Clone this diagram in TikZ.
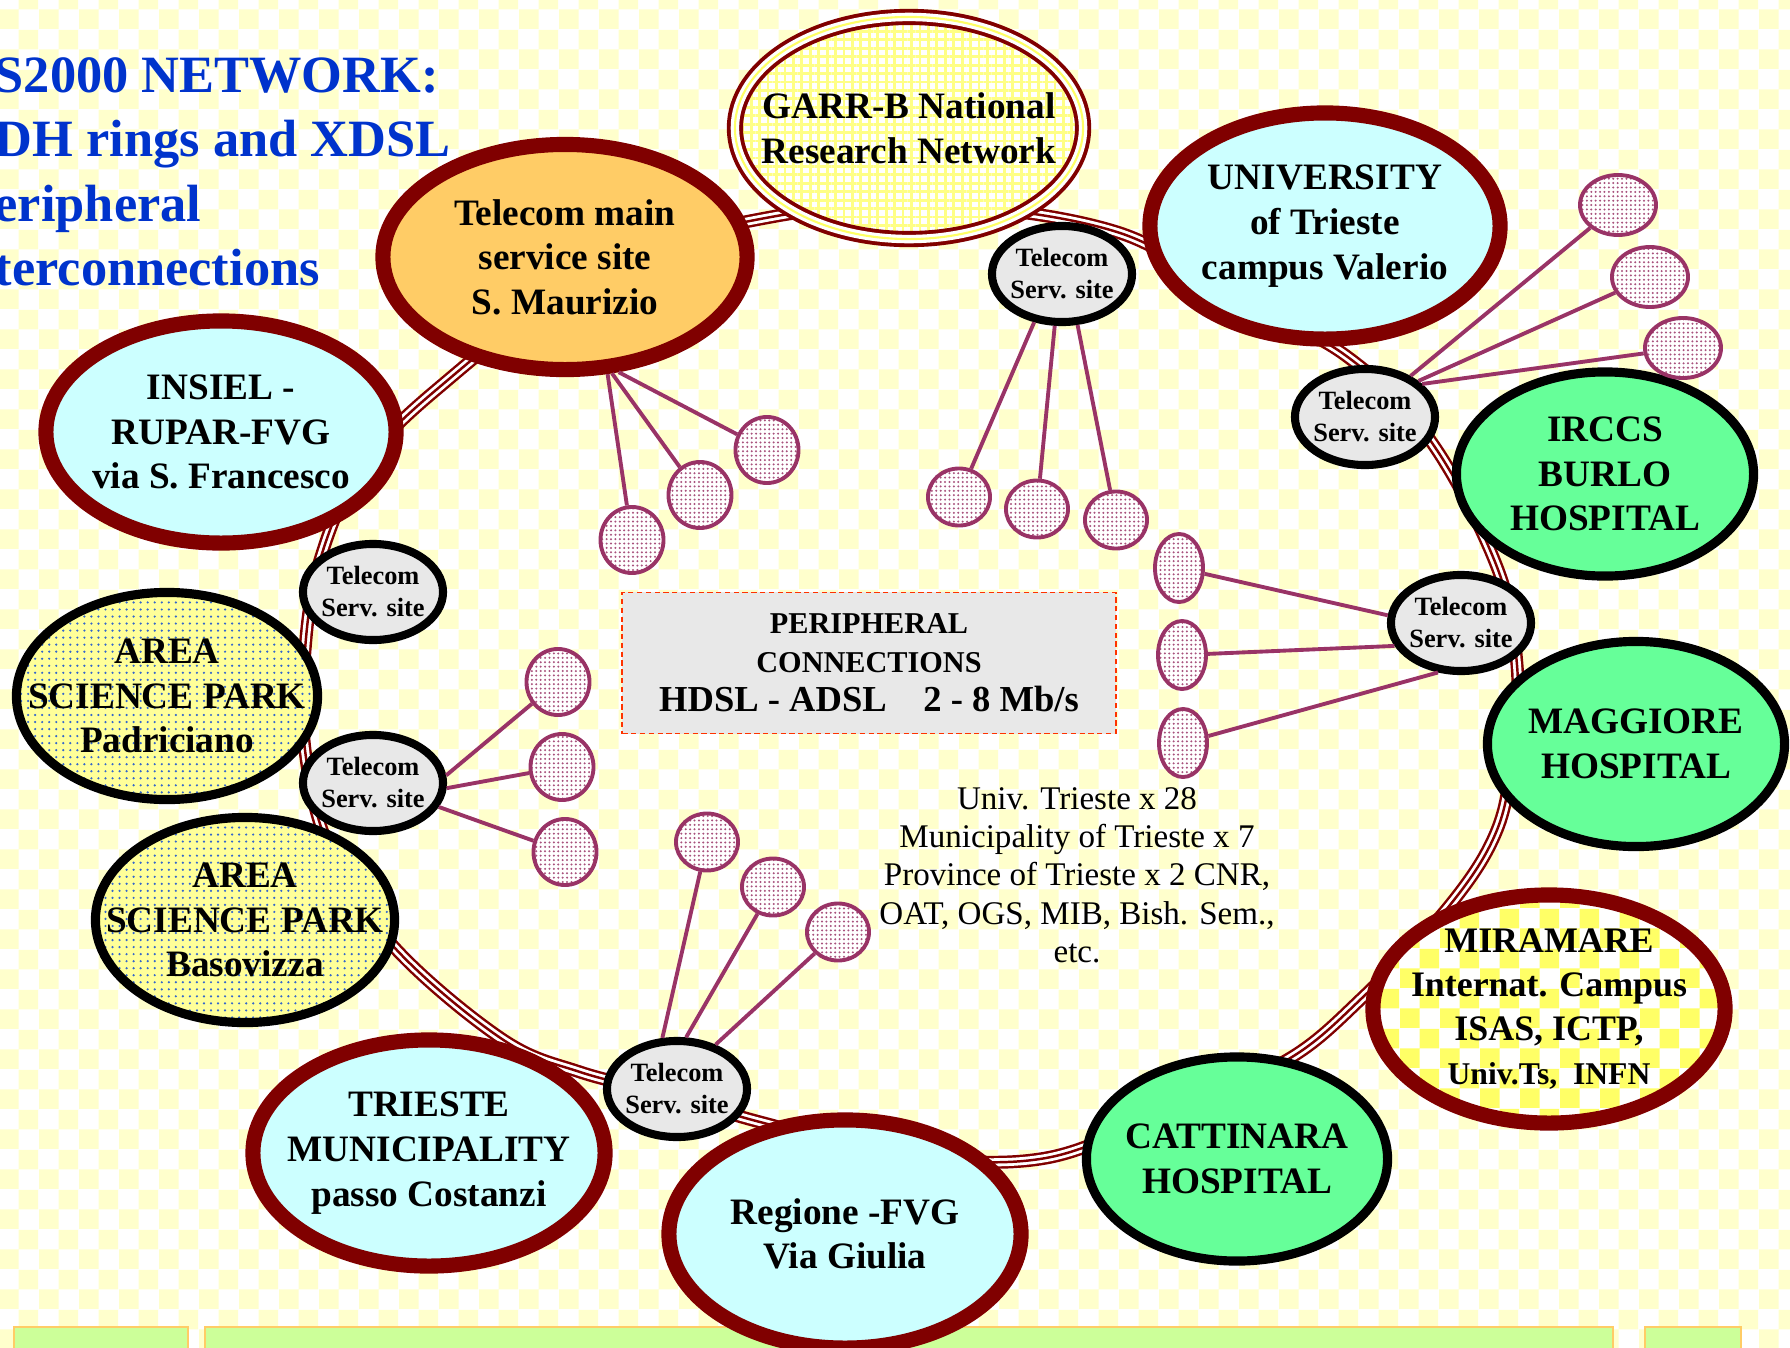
\documentclass[tikz,border=0pt]{standalone}
\usepackage{fontspec}
\setmainfont{Liberation Serif}
\usepackage{tikz}
\usetikzlibrary{shapes.geometric,patterns,patterns.meta}
\definecolor{ringred}{HTML}{800000}
\definecolor{skyfill}{HTML}{CCFFFF}
\definecolor{orgfill}{HTML}{FFCC66}
\definecolor{hospfill}{HTML}{66FF99}
\definecolor{parkfill}{HTML}{FFFF99}
\definecolor{dotblue}{HTML}{3366CC}
\definecolor{telgrey}{HTML}{E8E8E8}
\definecolor{plum}{HTML}{993366}
\definecolor{titleblue}{HTML}{0033CC}
\definecolor{bgyellow}{HTML}{FFFFCC}
\definecolor{chkyellow}{HTML}{FFFF66}
\definecolor{boxred}{HTML}{FF3300}
\definecolor{barfill}{HTML}{CCFF99}
\definecolor{barline}{HTML}{FFCC66}
\tikzset{
  netnode/.style = {ellipse, align=center, inner xsep=-5mm, inner ysep=-2mm,
    font=\fontsize{10.6}{12.7}\selectfont\bfseries},
  site_red/.style = {netnode, draw=ringred, line width=4.3pt, fill=skyfill,
    minimum width=3.5cm, minimum height=2.25cm},% site, red border
  site_chk/.style = {netnode, draw=ringred, line width=4.3pt,
    preaction={fill=white}, pattern=checkerboard, pattern color=chkyellow,
    minimum width=3.52cm, minimum height=2.28cm},% site, checked fill
  site_garr/.style = {netnode, draw=ringred, line width=4.6pt,
    preaction={fill=white}, pattern={Hatch[angle=0, distance=2.4pt, line width=.8pt]},
    pattern color=chkyellow!80,
    postaction={draw=white, line width=2.4pt},
    postaction={draw=chkyellow, line width=.6pt}},% national network
  site_hosp/.style = {netnode, draw=black, line width=2.6pt, fill=hospfill,
    minimum width=2.97cm, minimum height=2.04cm},% hospital
  site_park/.style = {netnode, draw=black, line width=2.6pt,
    preaction={fill=parkfill}, pattern={Dots[distance=2pt, radius=.35pt]},
    pattern color=dotblue, minimum width=3cm, minimum height=2.06cm},% science park
  tel_site/.style = {ellipse, draw=black, line width=2.3pt, fill=telgrey,
    inner xsep=-1mm, inner ysep=0pt, align=center,
    minimum width=1.4cm, minimum height=0.96cm,
    font=\fontsize{7.5}{9.1}\selectfont\bfseries},% telecom service site
  peri_n/.style = {ellipse, draw=plum, line width=1.1pt, inner sep=0pt,
    preaction={fill=white}, pattern={Dots[distance=1.25pt, radius=.32pt]},
    pattern color=plum!85, minimum width=0.63cm, minimum height=0.66cm},% peripheral
  peri_f/.style = {peri_n, minimum width=0.62cm, minimum height=0.57cm},
  peri_w/.style = {peri_n, minimum width=0.76cm, minimum height=0.6cm},
  peri_t/.style = {peri_n, minimum width=0.48cm, minimum height=0.68cm},
  spoke/.style = {draw=plum, line width=1.1pt},
  ring/.style = {draw=ringred, line width=3.7pt,
    postaction={draw=white, line width=2.3pt},
    postaction={draw=ringred, line width=0.7pt}},% SDH ring
  bar/.style = {fill=barfill, draw=barline, line width=0.8pt}
}

\begin{document}
\begin{tikzpicture}[x=0.01cm, y=-0.01cm]
  \useasboundingbox (0,0) rectangle (1790,1348);
  \fill[white] (0,0) rectangle (1790,1348);
  \fill[pattern=checkerboard, pattern color=bgyellow] (0,0) rectangle (1790,1348);
  \filldraw[bar] (14,1327) rectangle (188,1370);
  \filldraw[bar] (205,1327) rectangle (1613,1370);
  \filldraw[bar] (1645,1327) rectangle (1741,1370);
  % ring
  \draw[ring] plot[smooth cycle, tension=0.6] coordinates {
    (360,470) (436,390) (600,268) (771,217) (940,205) (1117,232)
    (1235,298) (1345,355) (1430,440) (1497,567) (1517,665) (1513,750)
    (1497,830) (1450,905) (1362,998) (1287,1060) (1180,1105) (1046,1158)
    (900,1155) (760,1122) (670,1095) (580,1072) (502,1039) (394,947)
    (330,850) (305,750) (305,650) (320,560)};

  \node [anchor=north west, align=left, inner sep=0pt, text=titleblue,
    font=\fontsize{14.9}{18.3}\selectfont\bfseries] (title) at (-6,57)
    {S2000 NETWORK:\\DH rings and XDSL\\eripheral\\terconnections};

  \node [site_red, fill=orgfill, minimum width=3.64cm] (main) at (565,257) {Telecom main\\service site\\S. Maurizio};
  \node [site_garr, minimum width=3.48cm, minimum height=2.22cm] (garr) at (909,128) {GARR-B National\\Research Network};
  \node [site_red, minimum height=2.26cm] (univ) at (1325,226) {UNIVERSITY\\of Trieste\\campus Valerio};
  \node [site_red, minimum height=2.22cm] (insiel) at (221,432) {INSIEL -\\RUPAR-FVG\\via S. Francesco};
  \node [site_hosp] (burlo) at (1605,474) {IRCCS\\BURLO\\HOSPITAL};
  \node [site_hosp, minimum height=2.05cm] (maggiore) at (1636,744) {MAGGIORE\\HOSPITAL};
  \node [site_chk, font=\fontsize{10.2}{12.5}\selectfont\bfseries] (miramare) at (1549,1009)
    {MIRAMARE\\Internat. Campus\\ISAS, ICTP,\\{\fontsize{9}{11}\selectfont Univ.Ts,~ INFN}};
  \node [site_hosp, minimum width=3.01cm] (cattinara) at (1237,1159) {CATTINARA\\HOSPITAL};
  \node [site_red, minimum width=3.52cm, minimum height=2.28cm] (regione) at (845,1234) {Regione -FVG\\Via Giulia};
  \node [site_red, minimum width=3.52cm, minimum height=2.26cm] (trieste) at (429,1153) {TRIESTE\\MUNICIPALITY\\passo Costanzi};
  \node [site_park, minimum width=2.99cm, minimum height=2.05cm] (basovizza) at (245,920) {AREA\\SCIENCE PARK\\Basovizza};
  \node [site_park, minimum width=3.01cm, minimum height=2.07cm] (padriciano) at (167,696) {AREA\\SCIENCE PARK\\Padriciano};

  \node [tel_site] (tel_a) at (1062,274) {Telecom\\Serv. site};
  \node [tel_site] (tel_b) at (1365,417) {Telecom\\Serv. site};
  \node [tel_site] (tel_c) at (1461,623) {Telecom\\Serv. site};
  \node [tel_site] (tel_d) at (373,592) {Telecom\\Serv. site};
  \node [tel_site] (tel_e) at (373,783) {Telecom\\Serv. site};
  \node [tel_site] (tel_f) at (677,1089) {Telecom\\Serv. site};

  \node [peri_n] (pm1) at (767,450) {};
  \node [peri_n] (pm2) at (700,495) {};
  \node [peri_n] (pm3) at (632,540) {};
  \node [peri_f] (pa1) at (959,497) {};
  \node [peri_f] (pa2) at (1037,509) {};
  \node [peri_f] (pa3) at (1116,520) {};
  \node [peri_w] (pb1) at (1618,205) {};
  \node [peri_w] (pb2) at (1650,277) {};
  \node [peri_w] (pb3) at (1683,348) {};
  \node [peri_t] (pc1) at (1179,568) {};
  \node [peri_t] (pc2) at (1182,655) {};
  \node [peri_t] (pc3) at (1183,743) {};
  \node [peri_n] (pe1) at (558,682) {};
  \node [peri_n] (pe2) at (562,767) {};
  \node [peri_n] (pe3) at (565,852) {};
  \node [peri_f] (pf1) at (707,842) {};
  \node [peri_f] (pf2) at (773,887) {};
  \node [peri_f] (pf3) at (838,932) {};

  \draw[spoke] (main.-65) -- (pm1);
  \draw[spoke] (main.-68) -- (pm2);
  \draw[spoke] (main.-70) -- (pm3);
  \draw[spoke] (tel_a.-120) -- (pa1);
  \draw[spoke] (tel_a.-98) -- (pa2);
  \draw[spoke] (tel_a.-73) -- (pa3);
  \draw[spoke] (tel_b.42) -- (pb1);
  \draw[spoke] (tel_b.34) -- (pb2);
  \draw[spoke] (tel_b.30) -- (pb3);
  \draw[spoke] (tel_c.174) -- (pc1);
  \draw[spoke] (tel_c.199) -- (pc2);
  \draw[spoke] (tel_c.245) -- (pc3);
  \draw[spoke] (tel_e.6) -- (pe1);
  \draw[spoke] (tel_e.-4) -- (pe2);
  \draw[spoke] (tel_e.-20) -- (pe3);
  \draw[spoke] (tel_f.106) -- (pf1);
  \draw[spoke] (tel_f.80) -- (pf2);
  \draw[spoke] (tel_f.49) -- (pf3);

  \node [draw=boxred, dash pattern=on 1.5pt off 1pt, line width=0.5pt, fill=telgrey,
    minimum width=4.93cm, minimum height=1.41cm, inner sep=0pt, align=center,
    font=\fontsize{8.6}{11.1}\selectfont\bfseries] (perbox) at (869,663)
    {PERIPHERAL\\CONNECTIONS\\{\fontsize{10.4}{11.1}\selectfont HDSL - ADSL~~~~2 - 8 Mb/s}};
  \node [align=center, inner sep=0pt, font=\fontsize{9.4}{10.9}\selectfont] (sitelist) at (1077,875)
    {Univ. Trieste x 28\\Municipality of Trieste x 7\\Province of Trieste x 2 CNR,\\OAT, OGS, MIB, Bish. Sem.,\\etc.};
\end{tikzpicture}
\end{document}
